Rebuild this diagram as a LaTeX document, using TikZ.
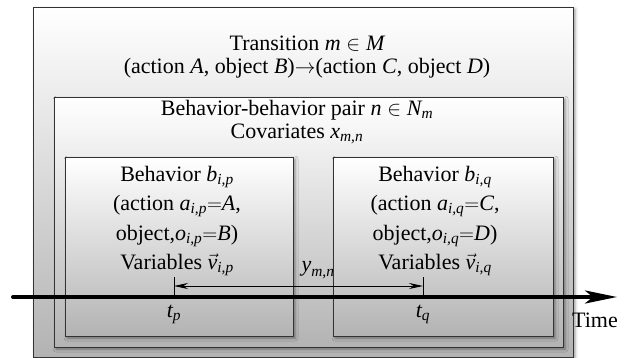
\documentclass[tikz,border=0pt]{standalone}
\usepackage{amsmath}
\usepackage{fontspec}
\setmainfont{Liberation Serif}
\usetikzlibrary{positioning}
\usetikzlibrary{arrows.meta}
\usetikzlibrary{shadows.blur}
\newcommand{\mv}[1]{\textit{#1}}

\begin{document}
\begin{tikzpicture}[x=1pt, y=-1pt,
  box/.style={rectangle, draw=black!80, line width=1.4pt, anchor=north west,
    inner sep=0pt, top color=white, bottom color=black!30,
    blur shadow={shadow xshift=1.5pt, shadow yshift=-1.5pt, shadow blur radius=3pt}},
  lbl/.style={align=center, inner sep=0pt, font=\fontsize{22}{23.5}\selectfont},
  blbl/.style={lbl, font=\fontsize{22}{29.5}\selectfont},
  timearr/.style={line width=4pt, line cap=round, -{Stealth[length=32pt, width=13pt, inset=8pt]}},
  gaparr/.style={line width=0.8pt, {Stealth[length=14pt, width=6pt]}-{Stealth[length=14pt, width=6pt]}},
  tick/.style={line width=1pt}
]
  \useasboundingbox (0,0) rectangle (639,358);

  % nested boxes
  \node[box, minimum width=540pt, minimum height=350pt] (trans) at (33,7) {};
  \node[box, minimum width=509pt, minimum height=250pt] (pair) at (54,97) {};
  \node[box, minimum width=228pt, minimum height=179pt] (behp) at (65,157) {};
  \node[box, minimum width=220pt, minimum height=179pt] (behq) at (333,157) {};

  % labels
  \node[lbl] (transtxt) at (307,57)
    {Transition $\mv{m} \in \mv{M}$\\
     (action \mv{A}, object \mv{B})$\rightarrow$(action \mv{C}, object \mv{D})};
  \node[lbl] (pairtxt) at (297,122)
    {Behavior-behavior pair $\mv{n} \in \mv{N}_{\mv{m}}$\\ Covariates $\mv{x}_{\mv{m,n}}$};
  \node[blbl] (behptxt) at (177,221)
    {Behavior $\mv{b}_{\mv{i,p}}$\\ (action $\mv{a}_{\mv{i,p}}{=}\mv{A}$,\\
     object,$\mv{o}_{\mv{i,p}}{=}\mv{B}$)\\
     Variables $\vec{\mv{v}}_{\mv{i,p}}$};
  \node[blbl] (behqtxt) at (435,221)
    {Behavior $\mv{b}_{\mv{i,q}}$\\ (action $\mv{a}_{\mv{i,q}}{=}\mv{C}$,\\
     object,$\mv{o}_{\mv{i,q}}{=}\mv{D}$)\\
     Variables $\vec{\mv{v}}_{\mv{i,q}}$};

  % time axis
  \coordinate (tstart) at (13,297);
  \coordinate (tend) at (617,297);
  \draw[timearr] (tstart) -- (tend);
  \node[lbl] (timetxt) at (595,320) {Time};

  % event ticks
  \coordinate (tp) at (174,297);
  \coordinate (tptop) at (174,277);
  \coordinate (tq) at (423,297);
  \coordinate (tqtop) at (423,277);
  \draw[tick] (tp) -- (tptop);
  \draw[tick] (tq) -- (tqtop);
  \coordinate (gp) at (174,286);
  \coordinate (gq) at (423,286);
  \draw[gaparr] (gp) -- (gq);
  \node[lbl] (ylbl) at (318,270) {$\mv{y}_{\mv{m,n}}$};
  \node[lbl] (tplbl) at (174,314) {$\mv{t}_{\mv{p}}$};
  \node[lbl] (tqlbl) at (423,314) {$\mv{t}_{\mv{q}}$};
\end{tikzpicture}
\end{document}
